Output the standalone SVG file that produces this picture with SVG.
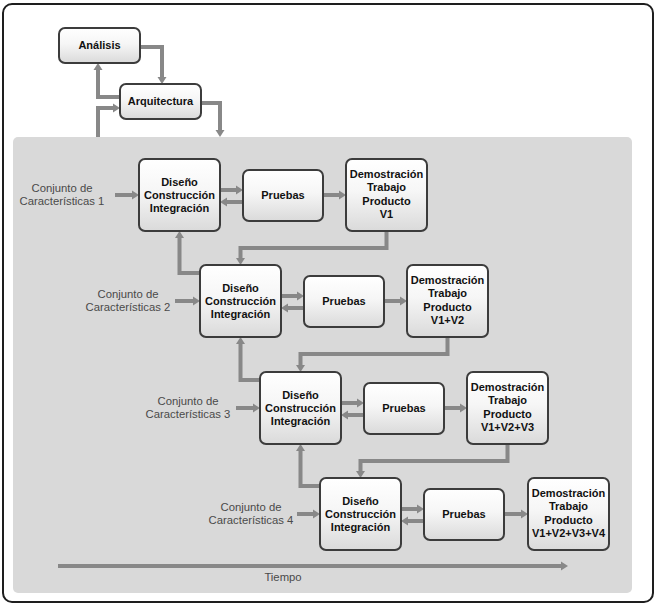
<svg xmlns="http://www.w3.org/2000/svg" width="656" height="605" viewBox="0 0 656 605">
<style>
.box{stroke:#3c3c3c;stroke-width:2;fill:url(#g)}
.bt{font-family:"Liberation Sans",Arial,sans-serif;font-weight:bold;font-size:11px;fill:#111;text-anchor:middle}
.lt{font-family:"Liberation Sans",Arial,sans-serif;font-size:11.3px;fill:#4a4a4a;text-anchor:middle}
.c{fill:none;stroke:#888;stroke-width:4;marker-end:url(#ah)}
</style>
<defs>
<linearGradient id="g" x1="0" y1="0" x2="0" y2="1">
<stop offset="0" stop-color="#ffffff"/>
<stop offset="0.45" stop-color="#f6f6f6"/>
<stop offset="1" stop-color="#dadada"/>
</linearGradient>
<marker id="ah" markerUnits="userSpaceOnUse" markerWidth="9" markerHeight="11" refX="0" refY="5" orient="auto" viewBox="0 0 9 10">
<path d="M0,0.5 L7,5 L0,9.5 z" fill="#888"/>
</marker>
</defs>
<rect x="3" y="4" width="650" height="598" rx="9" fill="#fff" stroke="#1e1e1e" stroke-width="2"/>
<rect x="13" y="137" width="619" height="456" rx="5" fill="#d9d9d9"/>

<g id="connectors">
<path class="c" d="M140,47 H162 V77"/>
<path class="c" d="M120,97 H98 V70"/>
<path class="c" d="M98,137 V108 H113"/>
<path class="c" d="M201,103 H220 V130"/>
<path class="c" d="M115,195 H132"/>
<path class="c" d="M175,301 H193"/>
<path class="c" d="M236,408 H253"/>
<path class="c" d="M297,514 H313"/>
<path class="c" d="M220,190 H236"/>
<path class="c" d="M281,296 H297"/>
<path class="c" d="M341,403 H357"/>
<path class="c" d="M401,509 H417"/>
<path class="c" d="M243,202 H227"/>
<path class="c" d="M304,308 H288"/>
<path class="c" d="M364,415 H348"/>
<path class="c" d="M424,521 H408"/>
<path class="c" d="M323,195 H339"/>
<path class="c" d="M384,301 H400"/>
<path class="c" d="M444,408 H460"/>
<path class="c" d="M504,514 H521"/>
<path class="c" d="M386.5,231 V248 H240.5 V258"/>
<path class="c" d="M447.5,337 V354 H300.5 V365"/>
<path class="c" d="M507.5,444 V461 H360.5 V471"/>
<path class="c" d="M200,273 H179.5 V238"/>
<path class="c" d="M260,380 H240.5 V344"/>
<path class="c" d="M320,486 H300.5 V451"/>
<path class="c" d="M58,566 H561"/>
</g>

<g id="analisis"><rect class="box" x="59" y="28" width="81" height="35" rx="6"/><text class="bt" x="99.5" y="49">Análisis</text></g>
<g id="arquitectura"><rect class="box" x="120" y="84" width="81" height="35" rx="6"/><text class="bt" x="160.5" y="105">Arquitectura</text></g>

<g id="label1"><text class="lt" x="62" y="192">Conjunto de</text><text class="lt" x="62" y="205">Características 1</text></g>
<g id="label2"><text class="lt" x="128" y="298">Conjunto de</text><text class="lt" x="128" y="311">Características 2</text></g>
<g id="label3"><text class="lt" x="188" y="405">Conjunto de</text><text class="lt" x="188" y="418">Características 3</text></g>
<g id="label4"><text class="lt" x="251" y="511">Conjunto de</text><text class="lt" x="251" y="524">Características 4</text></g>

<g id="dci1"><rect class="box" x="139" y="159" width="81" height="72" rx="6"/><text class="bt" x="179.5" y="186">Diseño</text><text class="bt" x="179.5" y="199">Construcción</text><text class="bt" x="179.5" y="212">Integración</text></g>
<g id="pruebas1"><rect class="box" x="243" y="170" width="80" height="51" rx="6"/><text class="bt" x="283" y="199">Pruebas</text></g>
<g id="demo1"><rect class="box" x="346" y="159" width="81" height="72" rx="6"/><text class="bt" x="386.5" y="177.5">Demostración</text><text class="bt" x="386.5" y="191">Trabajo</text><text class="bt" x="386.5" y="204.5">Producto</text><text class="bt" x="386.5" y="218">V1</text></g>

<g id="dci2"><rect class="box" x="200" y="265" width="81" height="72" rx="6"/><text class="bt" x="240.5" y="292">Diseño</text><text class="bt" x="240.5" y="305">Construcción</text><text class="bt" x="240.5" y="318">Integración</text></g>
<g id="pruebas2"><rect class="box" x="304" y="276" width="80" height="51" rx="6"/><text class="bt" x="344" y="305">Pruebas</text></g>
<g id="demo2"><rect class="box" x="407" y="265" width="81" height="72" rx="6"/><text class="bt" x="447.5" y="283.5">Demostración</text><text class="bt" x="447.5" y="297">Trabajo</text><text class="bt" x="447.5" y="310.5">Producto</text><text class="bt" x="447.5" y="324">V1+V2</text></g>

<g id="dci3"><rect class="box" x="260" y="372" width="81" height="72" rx="6"/><text class="bt" x="300.5" y="399">Diseño</text><text class="bt" x="300.5" y="412">Construcción</text><text class="bt" x="300.5" y="425">Integración</text></g>
<g id="pruebas3"><rect class="box" x="364" y="383" width="80" height="51" rx="6"/><text class="bt" x="404" y="412">Pruebas</text></g>
<g id="demo3"><rect class="box" x="467" y="372" width="81" height="72" rx="6"/><text class="bt" x="507.5" y="390.5">Demostración</text><text class="bt" x="507.5" y="404">Trabajo</text><text class="bt" x="507.5" y="417.5">Producto</text><text class="bt" x="507.5" y="431">V1+V2+V3</text></g>

<g id="dci4"><rect class="box" x="320" y="478" width="81" height="72" rx="6"/><text class="bt" x="360.5" y="505">Diseño</text><text class="bt" x="360.5" y="518">Construcción</text><text class="bt" x="360.5" y="531">Integración</text></g>
<g id="pruebas4"><rect class="box" x="424" y="489" width="80" height="51" rx="6"/><text class="bt" x="464" y="518">Pruebas</text></g>
<g id="demo4"><rect class="box" x="528" y="478" width="81" height="72" rx="6"/><text class="bt" x="568.5" y="496.5">Demostración</text><text class="bt" x="568.5" y="510">Trabajo</text><text class="bt" x="568.5" y="523.5">Producto</text><text class="bt" x="568.5" y="537">V1+V2+V3+V4</text></g>

<g id="tiempo"><text class="lt" x="283" y="581">Tiempo</text></g>
</svg>
